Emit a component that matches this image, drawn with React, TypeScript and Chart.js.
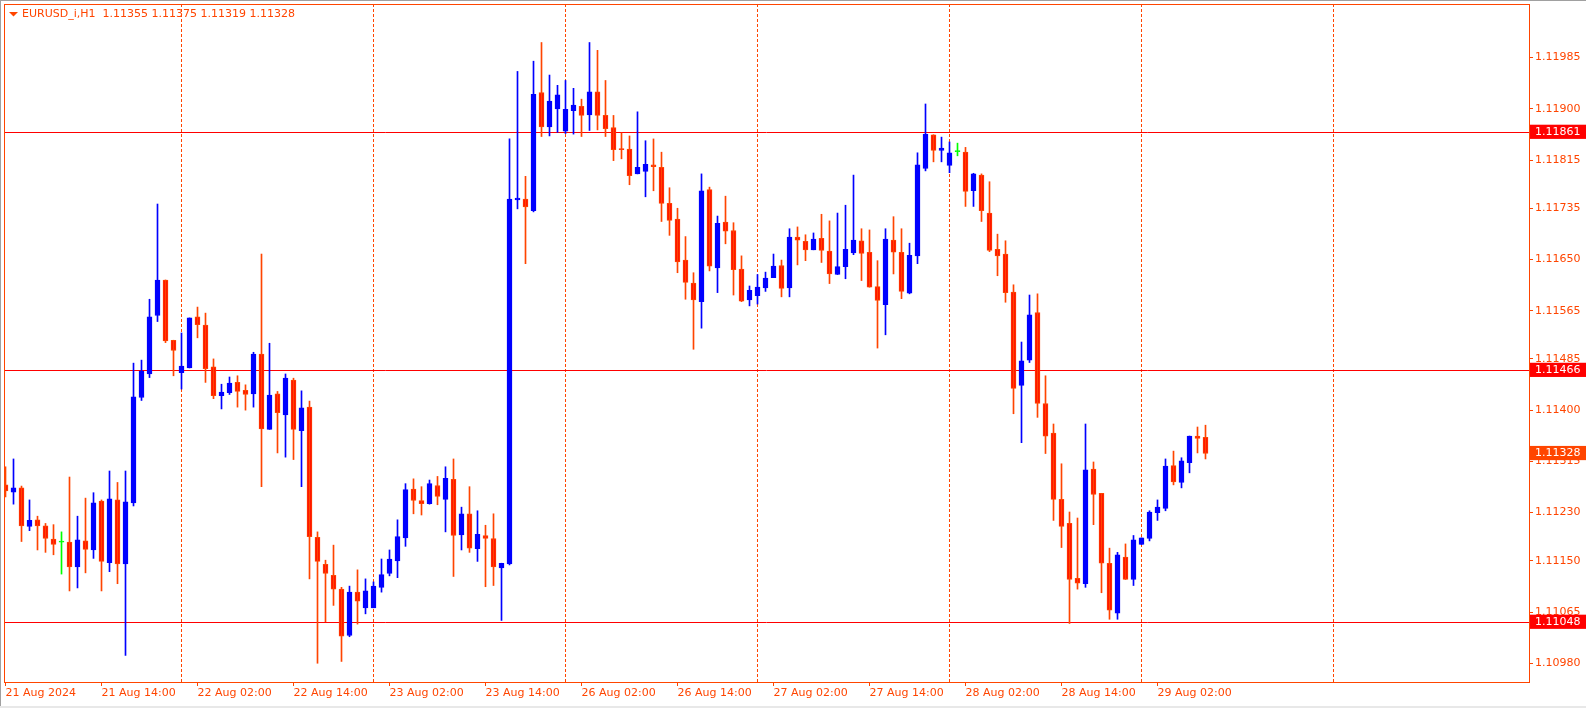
import React, { useEffect, useRef } from 'react';
import { Chart, registerables } from 'chart.js';

Chart.register(...registerables);

// ---------------- data (EURUSD_i, H1, one value per hourly bar) ----------------
const SYMBOL = 'EURUSD_i,H1';

const opens = [
  1.11276, 1.11264, 1.11271, 1.11207, 1.11218, 1.11208, 1.11186, 1.11181, 1.11181, 1.11140,
  1.11183, 1.11168, 1.11249, 1.11147, 1.11251, 1.11145, 1.11246, 1.11421, 1.11460, 1.11557,
  1.11616, 1.11516, 1.11462, 1.11470, 1.11555, 1.11541, 1.11472, 1.11424, 1.11429, 1.11446,
  1.11433, 1.11427, 1.11493, 1.11368, 1.11427, 1.11392, 1.11450, 1.11366, 1.11405, 1.11189,
  1.11144, 1.11126, 1.11103, 1.11026, 1.11098, 1.11072, 1.11072, 1.11106, 1.11129, 1.11150,
  1.11188, 1.11269, 1.11250, 1.11245, 1.11275, 1.11252, 1.11285, 1.11193, 1.11228, 1.11170,
  1.11192, 1.11187, 1.11138, 1.11145, 1.11749, 1.11750, 1.11731, 1.11927, 1.11870, 1.11900,
  1.11863, 1.11897, 1.11904, 1.11890, 1.11928, 1.11889, 1.11869, 1.11834, 1.11833, 1.11792,
  1.11796, 1.11807, 1.11803, 1.11743, 1.11717, 1.11649, 1.11611, 1.11580, 1.11766, 1.11636,
  1.11712, 1.11698, 1.11634, 1.11583, 1.11590, 1.11603, 1.11620, 1.11640, 1.11603, 1.11687,
  1.11680, 1.11666, 1.11685, 1.11664, 1.11625, 1.11638, 1.11661, 1.11681, 1.11662, 1.11605,
  1.11575, 1.11682, 1.11662, 1.11594, 1.11656, 1.11801, 1.11857, 1.11831, 1.11806, 1.11829,
  1.11828, 1.11764, 1.11790, 1.11727, 1.11667, 1.11659, 1.11596, 1.11441, 1.11483, 1.11562,
  1.11411, 1.11362, 1.11252, 1.11212, 1.11121, 1.11112, 1.11302, 1.11262, 1.11146, 1.11063,
  1.11156, 1.11119, 1.11177, 1.11187, 1.11230, 1.11237, 1.11308, 1.11280, 1.11313, 1.11357,
  1.11355,
];

const highs = [
  1.11306, 1.11319, 1.11274, 1.11251, 1.11224, 1.11212, 1.11210, 1.11198, 1.11289, 1.11224,
  1.11254, 1.11263, 1.11251, 1.11299, 1.11280, 1.11299, 1.11478, 1.11483, 1.11584, 1.11742,
  1.11616, 1.11516, 1.11528, 1.11553, 1.11571, 1.11561, 1.11485, 1.11443, 1.11455, 1.11457,
  1.11442, 1.11496, 1.11659, 1.11511, 1.11431, 1.11460, 1.11453, 1.11432, 1.11415, 1.11198,
  1.11151, 1.11176, 1.11106, 1.11108, 1.11135, 1.11120, 1.11115, 1.11153, 1.11168, 1.11218,
  1.11278, 1.11286, 1.11273, 1.11284, 1.11290, 1.11306, 1.11319, 1.11239, 1.11273, 1.11233,
  1.11209, 1.11228, 1.11146, 1.11850, 1.11962, 1.11788, 1.11979, 1.12010, 1.11956, 1.11939,
  1.11947, 1.11934, 1.11916, 1.12010, 1.11997, 1.11947, 1.11889, 1.11860, 1.11855, 1.11895,
  1.11847, 1.11850, 1.11828, 1.11769, 1.11735, 1.11688, 1.11628, 1.11792, 1.11770, 1.11722,
  1.11755, 1.11711, 1.11656, 1.11606, 1.11625, 1.11629, 1.11659, 1.11649, 1.11701, 1.11704,
  1.11691, 1.11694, 1.11725, 1.11714, 1.11727, 1.11740, 1.11790, 1.11701, 1.11699, 1.11648,
  1.11701, 1.11721, 1.11701, 1.11677, 1.11827, 1.11908, 1.11857, 1.11853, 1.11845, 1.11843,
  1.11836, 1.11793, 1.11792, 1.11779, 1.11692, 1.11681, 1.11608, 1.11513, 1.11591, 1.11593,
  1.11457, 1.11377, 1.11311, 1.11231, 1.11221, 1.11377, 1.11314, 1.11262, 1.11171, 1.11164,
  1.11178, 1.11192, 1.11188, 1.11233, 1.11251, 1.11319, 1.11332, 1.11321, 1.11357, 1.11372,
  1.11375,
];

const lows = [
  1.11256, 1.11244, 1.11182, 1.11200, 1.11168, 1.11164, 1.11160, 1.11128, 1.11100, 1.11105,
  1.11130, 1.11154, 1.11100, 1.11132, 1.11112, 1.10993, 1.11241, 1.11416, 1.11454, 1.11547,
  1.11512, 1.11457, 1.11435, 1.11470, 1.11520, 1.11446, 1.11419, 1.11402, 1.11426, 1.11405,
  1.11400, 1.11405, 1.11273, 1.11368, 1.11329, 1.11322, 1.11318, 1.11273, 1.11120, 1.10980,
  1.11049, 1.11076, 1.10983, 1.11024, 1.11045, 1.11062, 1.11072, 1.11098, 1.11125, 1.11122,
  1.11174, 1.11228, 1.11226, 1.11244, 1.11243, 1.11198, 1.11124, 1.11168, 1.11164, 1.11149,
  1.11107, 1.11109, 1.11051, 1.11143, 1.11734, 1.11643, 1.11729, 1.11854, 1.11855, 1.11861,
  1.11859, 1.11858, 1.11854, 1.11864, 1.11865, 1.11854, 1.11814, 1.11817, 1.11774, 1.11792,
  1.11754, 1.11764, 1.11713, 1.11690, 1.11628, 1.11584, 1.11501, 1.11536, 1.11631, 1.11595,
  1.11676, 1.11591, 1.11580, 1.11573, 1.11576, 1.11597, 1.11620, 1.11588, 1.11588, 1.11641,
  1.11648, 1.11666, 1.11645, 1.11610, 1.11625, 1.11618, 1.11658, 1.11615, 1.11604, 1.11503,
  1.11525, 1.11626, 1.11585, 1.11593, 1.11643, 1.11797, 1.11812, 1.11812, 1.11794, 1.11822,
  1.11738, 1.11738, 1.11713, 1.11663, 1.11623, 1.11579, 1.11394, 1.11346, 1.11479, 1.11388,
  1.11328, 1.11217, 1.11172, 1.11046, 1.11103, 1.11106, 1.11210, 1.11097, 1.11053, 1.11053,
  1.11119, 1.11109, 1.11177, 1.11183, 1.11217, 1.11233, 1.11276, 1.11271, 1.11296, 1.11329,
  1.11319,
];

const closes = [
  1.11266, 1.11271, 1.11208, 1.11217, 1.11208, 1.11187, 1.11177, 1.11181, 1.11140, 1.11185,
  1.11169, 1.11246, 1.11149, 1.11253, 1.11145, 1.11248, 1.11422, 1.11465, 1.11555, 1.11616,
  1.11515, 1.11499, 1.11473, 1.11553, 1.11542, 1.11469, 1.11424, 1.11430, 1.11445, 1.11431,
  1.11426, 1.11493, 1.11369, 1.11425, 1.11396, 1.11453, 1.11368, 1.11404, 1.11190, 1.11149,
  1.11129, 1.11103, 1.11025, 1.11098, 1.11083, 1.11100, 1.11108, 1.11127, 1.11153, 1.11190,
  1.11268, 1.11250, 1.11245, 1.11278, 1.11257, 1.11287, 1.11192, 1.11228, 1.11171, 1.11194,
  1.11187, 1.11140, 1.11146, 1.11750, 1.11752, 1.11737, 1.11924, 1.11870, 1.11913, 1.11923,
  1.11899, 1.11906, 1.11889, 1.11928, 1.11889, 1.11867, 1.11832, 1.11832, 1.11789, 1.11803,
  1.11808, 1.11804, 1.11743, 1.11715, 1.11646, 1.11612, 1.11583, 1.11764, 1.11639, 1.11710,
  1.11697, 1.11633, 1.11581, 1.11599, 1.11604, 1.11619, 1.11639, 1.11602, 1.11687, 1.11682,
  1.11666, 1.11684, 1.11665, 1.11626, 1.11638, 1.11667, 1.11682, 1.11660, 1.11604, 1.11582,
  1.11684, 1.11662, 1.11597, 1.11657, 1.11807, 1.11858, 1.11831, 1.11835, 1.11827, 1.11829,
  1.11763, 1.11792, 1.11731, 1.11665, 1.11656, 1.11595, 1.11436, 1.11482, 1.11558, 1.11411,
  1.11357, 1.11252, 1.11207, 1.11119, 1.11113, 1.11301, 1.11260, 1.11146, 1.11068, 1.11160,
  1.11119, 1.11185, 1.11188, 1.11231, 1.11239, 1.11307, 1.11281, 1.11316, 1.11357, 1.11353,
  1.11328,
];

// time-axis labels (every 12th bar) and day separators (bar index of 00:00)
const xTickBars = [0, 12, 24, 36, 48, 60, 72, 84, 96, 108, 120, 132, 144];
const xTickLabels = [
  '21 Aug 2024', '21 Aug 14:00', '22 Aug 02:00', '22 Aug 14:00', '23 Aug 02:00',
  '23 Aug 14:00', '26 Aug 02:00', '26 Aug 14:00', '27 Aug 02:00', '27 Aug 14:00',
  '28 Aug 02:00', '28 Aug 14:00', '29 Aug 02:00',
];
const daySeparatorBars = [22, 46, 70, 94, 118, 142, 166];

// price-axis labels
const yTickLabels = [
  '1.11985', '1.11900', '1.11815', '1.11735', '1.11650', '1.11565', '1.11485',
  '1.11400', '1.11315', '1.11230', '1.11150', '1.11065', '1.10980',
];

// horizontal level lines
const levelLines = [1.11861, 1.11466, 1.11048];

// ---------------- styling / layout ----------------
const CANVAS_W = 1586;
const CANVAS_H = 708;
const AXIS_RIGHT_W = 57;
const AXIS_BOTTOM_H = 26;
const X_MIN = -0.1875;
const X_MAX = 190.4375;
const Y_MIN = 1.109489;
const Y_MAX = 1.120739;

const FG = '#FF4500';
const BULL = '#0000FF';
const BEAR_FILL = '#FF0000';
const BEAR_LINE = '#FF4500';
const DOJI = '#00FF00';
const LEVEL = '#FF0000';
const CLEAR = 'rgba(0,0,0,0)';
const FONT_FAMILY = '"DejaVu Sans", Tahoma, sans-serif';
const FONT = { family: FONT_FAMILY, size: 11 };

const decorPlugin = {
  id: 'mtDecor',
  beforeDraw(chart: any) {
    const { ctx, width, height } = chart;
    ctx.save();
    ctx.fillStyle = '#FFFFFF';
    ctx.fillRect(0, 0, width, height);
    ctx.fillStyle = '#A0A0A0';
    ctx.fillRect(0, 0, width, 1);
    ctx.fillRect(0, 0, 1, height);
    ctx.fillStyle = '#E8E8E8';
    ctx.fillRect(0, height - 2, width, 2);
    ctx.restore();
  },
  afterDraw(chart: any) {
    const { ctx, chartArea } = chart;
    ctx.save();
    // frame
    ctx.strokeStyle = FG;
    ctx.lineWidth = 1;
    const l = Math.round(chartArea.left) + 0.5;
    const t = Math.round(chartArea.top) + 0.5;
    const r = Math.round(chartArea.right) + 0.5;
    const b = Math.round(chartArea.bottom) + 0.5;
    ctx.strokeRect(l, t, r - l, b - t);
    // title
    const n = opens.length;
    ctx.fillStyle = FG;
    ctx.beginPath();
    ctx.moveTo(9, 12);
    ctx.lineTo(18, 12);
    ctx.lineTo(13.5, 16.5);
    ctx.closePath();
    ctx.fill();
    ctx.font = `11px ${FONT_FAMILY}`;
    ctx.textBaseline = 'middle';
    ctx.textAlign = 'left';
    const title = `${SYMBOL}  ${opens[n - 1].toFixed(5)} ${highs[n - 1].toFixed(5)} ${lows[n - 1].toFixed(5)} ${closes[n - 1].toFixed(5)}`;
    ctx.fillText(title, 22, 14.5);
    ctx.restore();
  },
};

export default function App() {
  const ref = useRef<HTMLCanvasElement>(null);

  useEffect(() => {
    if (!ref.current) return;
    const n = opens.length;
    const idx = opens.map((_, i) => i);
    const kinds = idx.map((i) => (closes[i] > opens[i] ? 'up' : closes[i] < opens[i] ? 'down' : 'doji'));
    const lineColors = kinds.map((k) => (k === 'up' ? BULL : k === 'down' ? BEAR_LINE : DOJI));
    const fillColors = kinds.map((k) => (k === 'up' ? BULL : k === 'down' ? BEAR_FILL : DOJI));
    const lastClose = closes[n - 1];

    const chart = new Chart(ref.current, {
      type: 'bar',
      data: {
        datasets: [
          {
            label: 'wick',
            data: idx.map((i) => ({ x: i, y: [lows[i], highs[i]] })) as any,
            backgroundColor: lineColors,
            borderWidth: 0,
            barThickness: 1,
            grouped: false,
            minBarLength: 1,
          } as any,
          {
            label: 'body',
            data: idx.map((i) => ({ x: i, y: [opens[i], closes[i]] })) as any,
            backgroundColor: fillColors,
            borderColor: lineColors,
            borderWidth: 1,
            borderSkipped: false,
            barThickness: 5,
            grouped: false,
            minBarLength: 1,
          } as any,
        ],
      },
      options: {
        responsive: false,
        maintainAspectRatio: false,
        animation: false,
        devicePixelRatio: 1,
        events: [],
        layout: { padding: { left: 4, top: 4, right: 0, bottom: 0 } },
        plugins: {
          legend: { display: false },
          tooltip: { enabled: false },
          title: { display: false },
        },
        scales: {
          x: {
            type: 'linear',
            position: 'bottom',
            min: X_MIN,
            max: X_MAX,
            offset: false,
            bounds: 'data',
            afterBuildTicks: (scale: any) => {
              scale.ticks = [
                ...xTickBars.map((v) => ({ value: v, kind: 'label' })),
                ...daySeparatorBars.map((v) => ({ value: v, kind: 'sep' })),
              ];
            },
            afterFit: (scale: any) => {
              scale.height = AXIS_BOTTOM_H;
              scale.paddingLeft = 0;
              scale.paddingRight = 0;
            },
            grid: {
              offset: false,
              drawOnChartArea: true,
              lineWidth: 1,
              tickLength: 4,
              color: (c: any) => (c.tick && c.tick.kind === 'sep' ? FG : CLEAR),
              tickColor: (c: any) => (c.tick && c.tick.kind === 'label' ? FG : CLEAR),
            },
            border: { display: false, dash: [3, 2] },
            ticks: {
              autoSkip: false,
              maxRotation: 0,
              minRotation: 0,
              align: 'start',
              padding: 1,
              color: FG,
              font: FONT,
              callback: function (value: any, index: number, ticks: any[]) {
                const t = ticks[index];
                if (!t || t.kind !== 'label') return '';
                const k = xTickBars.indexOf(Number(value));
                return k >= 0 ? xTickLabels[k] : '';
              },
            },
          } as any,
          y: {
            type: 'linear',
            position: 'right',
            min: Y_MIN,
            max: Y_MAX,
            bounds: 'data',
            z: 1,
            afterBuildTicks: (scale: any) => {
              scale.ticks = [
                ...yTickLabels.map((s) => ({ value: parseFloat(s), kind: 'label', text: s })),
                ...levelLines.map((v) => ({ value: v, kind: 'level', text: v.toFixed(5) })),
                { value: lastClose, kind: 'price', text: lastClose.toFixed(5) },
              ];
            },
            afterFit: (scale: any) => {
              scale.width = AXIS_RIGHT_W;
              scale.paddingTop = 0;
              scale.paddingBottom = 0;
            },
            grid: {
              drawOnChartArea: true,
              lineWidth: 1,
              tickLength: 4,
              color: (c: any) => (c.tick && c.tick.kind === 'level' ? LEVEL : CLEAR),
              tickColor: (c: any) => (c.tick && c.tick.kind === 'label' ? FG : CLEAR),
            },
            border: { display: false },
            ticks: {
              autoSkip: false,
              padding: 2,
              font: FONT,
              color: (c: any) => (c.tick && c.tick.kind !== 'label' ? '#FFFFFF' : FG),
              showLabelBackdrop: (c: any) => !!(c.tick && c.tick.kind !== 'label'),
              backdropColor: (c: any) => (c.tick && c.tick.kind === 'level' ? LEVEL : FG),
              backdropPadding: { top: 1, bottom: 0, left: 5, right: 14 },
              callback: function (value: any, index: number, ticks: any[]) {
                const t = ticks[index];
                return t && t.text ? t.text : String(value);
              },
            },
          } as any,
        },
      },
      plugins: [decorPlugin],
    } as any);

    return () => chart.destroy();
  }, []);

  return (
    <div style={{ position: 'fixed', left: 0, top: 0, width: CANVAS_W, height: CANVAS_H, background: '#FFFFFF' }}>
      <canvas ref={ref} width={CANVAS_W} height={CANVAS_H} style={{ width: CANVAS_W, height: CANVAS_H, display: 'block' }} />
    </div>
  );
}
